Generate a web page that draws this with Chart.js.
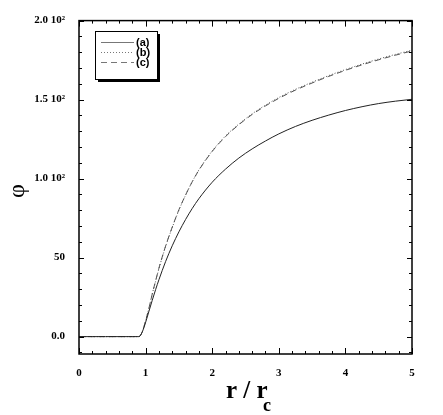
<!DOCTYPE html>
<html>
<head>
<meta charset="utf-8">
<script src="https://cdn.jsdelivr.net/npm/chart.js@4.4.0/dist/chart.umd.min.js"></script>
<style>
  html, body { margin: 0; padding: 0; background: #fff; }
  #wrap { width: 443px; height: 415px; }
</style>
</head>
<body>
<div id="wrap"><canvas id="phiChart" width="443" height="415"></canvas></div>
<script>
// r / r_c sample positions
var rValues = [0, 0.2, 0.4, 0.6, 0.8, 0.9, 0.95, 1.0, 1.05, 1.1, 1.15, 1.2, 1.3, 1.4, 1.5, 1.6, 1.7, 1.8,
    2.0, 2.2, 2.4, 2.6, 2.8, 3.0, 3.25, 3.5, 3.75, 4.0, 4.25, 4.5, 4.75, 5.0];
// phi for each curve
var phiA = [0, 0, 0, 0, 0, 0, 3, 9, 16, 23, 29.7, 36, 47.5, 57.5, 66.3, 74.1, 81.1, 87.3,
    97.7, 106, 113, 118.8, 123.8, 128.3, 133, 136.9, 140.2, 143.1, 145.5, 147.5, 149, 150.2];
var phiB = [0, 0, 0, 0, 0, 0, 3, 10, 18, 27, 35, 43, 57, 69, 80, 89.5, 98, 105.5,
    117.5, 127, 134.5, 141, 146.5, 151.3, 156.5, 161, 165.2, 169, 172.5, 175.7, 178.6, 181.3];
var phiC = [0, 0, 0, 0, 0, 0, 3, 10, 18, 27, 35.3, 43.3, 57.3, 69.3, 80.3, 89.6, 98, 105.3,
    117.2, 126.6, 134.1, 140.6, 146, 150.8, 156, 160.5, 164.7, 168.5, 172, 175.2, 178.1, 180.8];
var seriesLabels = ["(a)", "(b)", "(c)"];

var xTickValues = [0, 1, 2, 3, 4, 5];
var yTickValues = [0, 50, 100, 150, 200];
var yTickLabels = ["0.0", "50", "1.0 10\u00B2", "1.5 10\u00B2", "2.0 10\u00B2"];

function toPoints(ys) {
    return rValues.map(function (r, i) { return { x: r, y: ys[i] }; });
}

var dashes = [[], [1, 2], [6, 4]];

// frame, inward ticks, titles and boxed legend
const framePlugin = {
    id: "framePlugin",
    afterDraw(chart) {
        const { ctx, chartArea: { left, top, right, bottom }, scales: { x, y } } = chart;
        ctx.save();
        ctx.strokeStyle = "#000";
        ctx.lineWidth = 1.5;
        ctx.strokeRect(left, top, right - left, bottom - top);

        ctx.lineWidth = 1;
        ctx.beginPath();
        for (var i = 0; i <= 25; i++) {
            var v = i * 0.2;
            var px = Math.round(x.getPixelForValue(v)) + 0.5;
            var len = (i % 5 === 0) ? 6 : 3;
            ctx.moveTo(px, bottom); ctx.lineTo(px, bottom - len);
            ctx.moveTo(px, top); ctx.lineTo(px, top + len);
        }
        for (var j = -1; j <= 20; j++) {
            var vy = j * 10;
            var py = Math.round(y.getPixelForValue(vy)) + 0.5;
            if (py > bottom || py < top) continue;
            var ylen = (j % 5 === 0) ? 5 : 3;
            ctx.moveTo(left, py); ctx.lineTo(left + ylen, py);
            ctx.moveTo(right, py); ctx.lineTo(right - ylen, py);
        }
        ctx.stroke();

        // x title r / r_c
        ctx.fillStyle = "#000";
        ctx.textBaseline = "alphabetic";
        ctx.textAlign = "left";
        ctx.font = "bold 25px 'Liberation Serif'";
        ctx.fillText("r / r", 226, 398);
        ctx.font = "bold 18px 'Liberation Serif'";
        ctx.fillText("c", 263, 411);

        // y title phi
        ctx.save();
        ctx.translate(18, 191);
        ctx.rotate(-Math.PI / 2);
        ctx.textAlign = "center";
        ctx.textBaseline = "middle";
        ctx.font = "24px 'Liberation Serif'";
        ctx.fillText("\u03C6", 0, 0);
        ctx.restore();

        // legend box with shadow
        var bx = 95, by = 31, bw = 62, bh = 48;
        ctx.fillStyle = "#000";
        ctx.fillRect(bx + 3, by + 3, bw, bh);
        ctx.fillStyle = "#fff";
        ctx.fillRect(bx, by, bw, bh);
        ctx.strokeStyle = "#000";
        ctx.lineWidth = 1;
        ctx.strokeRect(bx + 0.5, by + 0.5, bw, bh);
        ctx.font = "bold 11px 'Liberation Sans'";
        ctx.textBaseline = "middle";
        chart.data.datasets.forEach(function (ds, k) {
            var ly = 42.5 + k * 10;
            ctx.strokeStyle = "#777";
            ctx.setLineDash(ds.borderDash || []);
            ctx.beginPath();
            ctx.moveTo(101, ly); ctx.lineTo(134, ly);
            ctx.stroke();
            ctx.setLineDash([]);
            ctx.fillStyle = "#000";
            ctx.fillText(ds.label, 136, ly);
        });
        ctx.restore();
    },
};

var ctx = document.getElementById("phiChart");
var phiChart = new Chart(ctx, {
    type: "line",
    data: {
        datasets: [
            { label: seriesLabels[0], data: toPoints(phiA), borderColor: "#222", borderWidth: 1, borderDash: dashes[0] },
            { label: seriesLabels[1], data: toPoints(phiB), borderColor: "#555", borderWidth: 1, borderDash: dashes[1] },
            { label: seriesLabels[2], data: toPoints(phiC), borderColor: "#555", borderWidth: 1, borderDash: dashes[2] },
        ],
    },
    options: {
        responsive: false,
        animation: false,
        devicePixelRatio: 1,
        elements: {
            point: { radius: 0 },
            line: { cubicInterpolationMode: "monotone", fill: false },
        },
        layout: { padding: { top: 19, right: 31, bottom: 0, left: 0 } },
        plugins: {
            legend: { display: false },
            tooltip: { enabled: false },
        },
        scales: {
            x: {
                type: "linear",
                min: 0,
                max: 5,
                grid: { display: false, drawTicks: false },
                border: { display: false },
                afterBuildTicks: function (scale) {
                    scale.ticks = xTickValues.map(function (v) { return { value: v }; });
                },
                afterFit: function (scale) { scale.height = 61; },
                ticks: {
                    padding: 13,
                    maxRotation: 0,
                    color: "#000",
                    font: { family: "Liberation Serif", weight: "bold", size: 11 },
                },
            },
            y: {
                type: "linear",
                min: -11,
                max: 200,
                grid: { display: false, drawTicks: false },
                border: { display: false },
                afterBuildTicks: function (scale) {
                    scale.ticks = yTickValues.map(function (v) { return { value: v }; });
                },
                afterFit: function (scale) { scale.width = 79; },
                ticks: {
                    padding: 14,
                    color: "#000",
                    font: { family: "Liberation Serif", weight: "bold", size: 11 },
                    callback: function (v) {
                        var k = yTickValues.indexOf(v);
                        return k >= 0 ? yTickLabels[k] : "";
                    },
                },
            },
        },
    },
    plugins: [framePlugin],
});
</script>
</body>
</html>
